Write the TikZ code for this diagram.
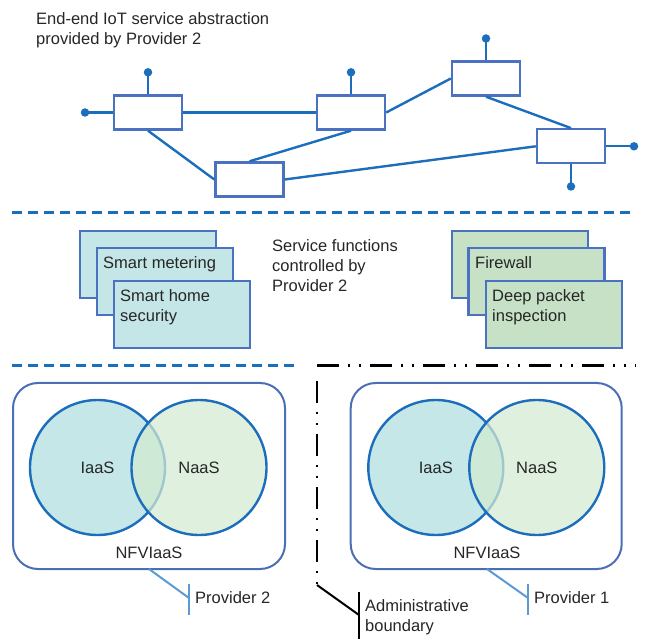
\documentclass[tikz,border=0pt]{standalone}
\usepackage{fontspec}
\setmainfont{Liberation Sans}
\definecolor{boxblue}{HTML}{4A72C0}
\definecolor{lineblue}{HTML}{1C6EBC}
\definecolor{panelblue}{HTML}{4A6FB5}
\definecolor{callblue}{HTML}{5B9BD5}
\definecolor{cardcyan}{HTML}{C4E6E6}
\definecolor{cardgreen}{HTML}{C6E1C5}
\definecolor{circcyan}{HTML}{C5E7E8}
\definecolor{circgreen}{HTML}{D3EAD1}
\definecolor{txt}{HTML}{262626}
\begin{document}
\begin{tikzpicture}[x=1pt,y=-1pt,
  every node/.style={text=txt, font=\fontsize{16.5}{20}\selectfont},
  netbox/.style={draw=boxblue, line width=2.4pt, fill=white, minimum width=68pt, minimum height=34pt, inner sep=0pt},
  netline/.style={draw=lineblue, line width=2.4pt},
  term/.style={circle, fill=lineblue, inner sep=0pt, minimum size=8.5pt},
  card/.style={draw=boxblue, line width=2.2pt, minimum width=136pt, minimum height=67pt, inner sep=0pt},
  lbl/.style={anchor=base west, inner sep=0pt, align=left},
  panel/.style={draw=panelblue, line width=2pt, rounded corners=25pt},
  venn/.style={circle, draw=lineblue, line width=2.4pt, minimum size=135pt, inner sep=0pt},
  bluedash/.style={draw=lineblue, line width=3pt, dash pattern=on 10pt off 6pt},
  admin/.style={draw=black, dash pattern=on 22pt off 9pt on 2pt off 9pt on 2pt off 9pt},
  callout/.style={draw=callblue, line width=2pt}
]
\useasboundingbox (0,0) rectangle (646,639);

% ---- top title (base anchor = last line baseline)
\node[lbl] (title) at (36,44.5) {End-end IoT service abstraction\\provided by Provider 2};

% ---- network
\node[netbox] (A) at (148,112.5) {};
\node[netbox] (B) at (351,112.5) {};
\node[netbox] (C) at (486,78.5) {};
\node[netbox] (D) at (571,146.3) {};
\node[netbox] (E) at (249.5,179.5) {};
\node[term] (tA) at (148,72.3) {};
\node[term] (tAL) at (85,112.5) {};
\node[term] (tB) at (351,72.3) {};
\node[term] (tC) at (486,38.5) {};
\node[term] (tDR) at (634,146.3) {};
\node[term] (tDB) at (571,186.5) {};
\draw[netline] (A.east) -- (B.west);
\draw[netline] (A.south) -- (E.west);
\draw[netline] (E.north) -- (B.south);
\draw[netline] (B.east) -- (C.west);
\draw[netline] (C.south) -- (D.north);
\draw[netline] (E.east) -- (D.west);
\draw[netline] (A.north) -- (tA.center);
\draw[netline] (A.west) -- (tAL.center);
\draw[netline] (B.north) -- (tB.center);
\draw[netline] (C.north) -- (tC.center);
\draw[netline] (D.east) -- (tDR.center);
\draw[netline] (D.south) -- (tDB.center);

% ---- separator 1
\coordinate (s1a) at (12,213);
\coordinate (s1b) at (636,213);
\draw[bluedash] (s1a) -- (s1b);

% ---- service function cards
\node[card, fill=cardcyan] (L1) at (148,264.5) {};
\node[card, fill=cardcyan] (L2) at (165,281.5) {};
\node[card, fill=cardcyan] (L3) at (182,314.5) {};
\node[lbl] (tL2) at (103,268.5) {Smart metering};
\node[lbl] (tL3) at (120,322) {Smart home\\security};

\node[card, fill=cardgreen] (R1) at (520,264.5) {};
\node[card, fill=cardgreen] (R2) at (536.5,281.5) {};
\node[card, fill=cardgreen] (R3) at (554,314.5) {};
\node[lbl] (tR2) at (475,268.5) {Firewall};
\node[lbl] (tR3) at (492,322) {Deep packet\\inspection};

\node[lbl] (svc) at (272,292) {Service functions\\controlled by\\Provider 2};

% ---- separator 2
\coordinate (s2a) at (12,365.5);
\coordinate (s2b) at (294,365.5);
\draw[bluedash] (s2a) -- (s2b);
\coordinate (b1) at (317,365.5);
\coordinate (b2) at (636,365.5);
\draw[admin, line width=2.6pt] (b1) -- (b2);
\coordinate (v1) at (317,381);
\coordinate (v2) at (317,585);
\draw[admin, line width=2pt] (v1) -- (v2);
\coordinate (bk) at (359,615);
\coordinate (bt) at (359,592);
\coordinate (bb) at (359,639);
\draw[black, line width=2pt] (v2) -- (bk);
\draw[black, line width=2pt] (bt) -- (bb);
\node[lbl] (adm) at (365,631.5) {Administrative\\boundary};

% ---- left panel (Provider 2)
\node[panel, minimum width=272pt, minimum height=186pt] (P2) at (149,476) {};
\node[venn, fill=circcyan] (I2) at (97.5,467.5) {IaaS};
\node[venn, fill=circgreen, fill opacity=0.72, text opacity=1] (N2) at (199,467.5) {NaaS};
\node (NF2) at (149,553) {NFVIaaS};
\coordinate (c2a) at (149,569);
\coordinate (c2b) at (189,598);
\coordinate (c2t) at (189,584);
\coordinate (c2u) at (189,615);
\draw[callout] (c2a) -- (c2b);
\draw[callout] (c2t) -- (c2u);
\node[anchor=west, inner sep=0pt] (pv2) at (195,598) {Provider 2};

% ---- right panel (Provider 1)
\node[panel, minimum width=271pt, minimum height=186pt] (P1) at (486.2,476) {};
\node[venn, fill=circcyan] (I1) at (435.8,467.5) {IaaS};
\node[venn, fill=circgreen, fill opacity=0.72, text opacity=1] (N1) at (536.8,467.5) {NaaS};
\node (NF1) at (487,553) {NFVIaaS};
\coordinate (c1a) at (487,569);
\coordinate (c1b) at (528,598);
\coordinate (c1t) at (528,584);
\coordinate (c1u) at (528,615);
\draw[callout] (c1a) -- (c1b);
\draw[callout] (c1t) -- (c1u);
\node[anchor=west, inner sep=0pt] (pv1) at (534,598) {Provider 1};
\end{tikzpicture}
\end{document}
